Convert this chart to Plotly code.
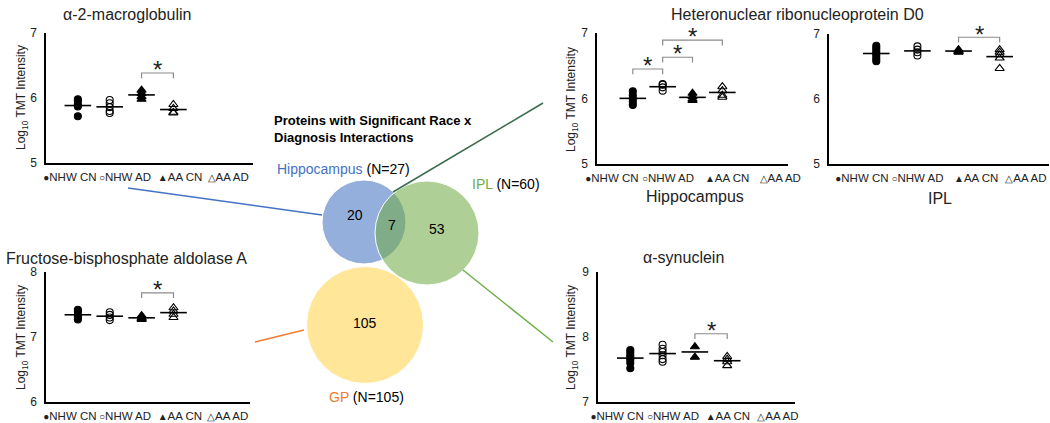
import plotly.graph_objects as go

W, H = 1050, 423

GROUPS = ["NHW CN", "NHW AD", "AA CN", "AA AD"]
GROUP_POS = [1, 2, 3, 4]
GROUP_GLYPHS = ["●", "○", "▲", "△"]
GROUP_SYMBOLS = ["circle", "circle-open", "triangle-up", "triangle-up-open"]

# Log10 TMT intensity per group: NHW CN, NHW AD, AA CN, AA AD
a2m_hip = [
    [5.98, 5.95, 5.90, 5.87, 5.72],
    [5.97, 5.92, 5.86, 5.80, 5.77],
    [6.12, 6.07, 6.02, 5.98],
    [5.90, 5.84, 5.78, 5.77],
]
aldoa_gp = [
    [7.42, 7.39, 7.33, 7.30, 7.27],
    [7.38, 7.34, 7.30, 7.26],
    [7.33, 7.30, 7.28, 7.27],
    [7.45, 7.40, 7.35, 7.30],
]
hnrnpd_hip = [
    [6.11, 6.05, 6.00, 5.95, 5.90],
    [6.22, 6.21, 6.17, 6.12],
    [6.08, 6.03, 5.99, 5.97],
    [6.18, 6.12, 6.05, 6.02],
]
hnrnpd_ipl = [
    [6.82, 6.78, 6.74, 6.70, 6.66, 6.62, 6.58],
    [6.81, 6.76, 6.72, 6.67],
    [6.76, 6.74, 6.72, 6.73],
    [6.76, 6.72, 6.68, 6.63, 6.47],
]
snca_ipl = [
    [7.80, 7.76, 7.72, 7.68, 7.65, 7.60, 7.52],
    [7.88, 7.82, 7.77, 7.72, 7.66, 7.62],
    [7.85, 7.69],
    [7.70, 7.66, 7.62, 7.56],
]

# significant pairwise comparisons (group index pairs)
a2m_sig = [(2, 3)]
aldoa_sig = [(2, 3)]
hnrnpd_hip_sig = [(0, 1), (1, 2), (1, 3)]
hnrnpd_ipl_sig = [(2, 3)]
snca_sig = [(2, 3)]

# Venn diagram counts
venn_regions = ["Hippocampus", "IPL", "GP"]
venn_totals = [27, 60, 105]
venn_counts = [20, 7, 53, 105]  # hip only, hip & IPL, IPL only, GP only

FONT = "Arial, Liberation Sans, sans-serif"
TXT = "#222222"

# panel boxes in pixels (left, right, top, bottom) + axis settings
panels = [
    dict(data=a2m_hip, sig=a2m_sig, box=(46, 253, 33, 163), yr=[5, 7], xr=[0, 6.5],
         ticks=[0.75, 2.48, 4.21, 5.72], br=[6.385]),
    dict(data=aldoa_gp, sig=aldoa_sig, box=(46, 250, 272, 402), yr=[6, 8], xr=[0, 6.4],
         ticks=[0.75, 2.48, 4.2, 5.7], br=[7.68]),
    dict(data=hnrnpd_hip, sig=hnrnpd_hip_sig, box=(597, 788, 33, 164), yr=[5, 7], xr=[-0.2, 6.2],
         ticks=[0.30, 2.18, 4.16, 5.94], br=[6.45, 6.63, 6.89]),
    dict(data=hnrnpd_ipl, sig=hnrnpd_ipl_sig, box=(829, 1049, 34, 164), yr=[5, 7], xr=[-0.15, 5.2],
         ticks=[0.65, 2.0, 3.43, 4.64], br=[6.95]),
    dict(data=snca_ipl, sig=snca_sig, box=(598, 795, 272, 402), yr=[7, 9], xr=[0, 6.1],
         ticks=[0.59, 2.32, 4.02, 5.57], br=[8.05]),
]

tick_text = [f"<span style='font-size:10px'>{g}</span>{n}" for g, n in zip(GROUP_GLYPHS, GROUPS)]

fig = go.Figure()
annotations = []
shapes = []

# invisible full-figure pixel axis for the Venn diagram and text
fig.update_layout(
    xaxis=dict(domain=[0, 1], range=[0, W], visible=False, fixedrange=True, automargin=False),
    yaxis=dict(domain=[0, 1], range=[H, 0], visible=False, fixedrange=True, automargin=False),
)


def to_px(p, x, y):
    l, r, t, b = p["box"]
    px = l + (x - p["xr"][0]) / (p["xr"][1] - p["xr"][0]) * (r - l)
    py = b - (y - p["yr"][0]) / (p["yr"][1] - p["yr"][0]) * (b - t)
    return px, py


for i, p in enumerate(panels):
    n = i + 2
    xa, ya = f"x{n}", f"y{n}"
    l, r, t, b = p["box"]
    for g, vals in enumerate(p["data"]):
        fig.add_trace(go.Scatter(
            x=[GROUP_POS[g]] * len(vals), y=vals, xaxis=xa, yaxis=ya, mode="markers",
            marker=dict(symbol=GROUP_SYMBOLS[g], size=7 if g < 2 else 8, color="black",
                        line=dict(color="black", width=1.1)),
            hoverinfo="skip", cliponaxis=False,
        ))
        fig.add_trace(go.Scatter(
            x=[GROUP_POS[g]], y=[sum(vals) / len(vals)], xaxis=xa, yaxis=ya, mode="markers",
            marker=dict(symbol="line-ew", size=19, line=dict(color="black", width=1.6)),
            hoverinfo="skip", cliponaxis=False,
        ))
    drop = 0.08
    for (ga, gb), top in zip(p["sig"], p["br"]):
        xa0, xb0 = GROUP_POS[ga], GROUP_POS[gb]
        fig.add_trace(go.Scatter(
            x=[xa0, xa0, xb0, xb0], y=[top - drop, top, top, top - drop],
            xaxis=xa, yaxis=ya, mode="lines", line=dict(color="#8c8c8c", width=1.2),
            hoverinfo="skip", cliponaxis=False,
        ))
        sx, sy = to_px(p, (xa0 + xb0) / 2, top + 0.05)
        annotations.append(dict(
            x=sx, y=sy, xref="x", yref="y", text="*", showarrow=False,
            font=dict(size=24, color=TXT, family=FONT), yanchor="middle",
        ))
    fig.update_layout({
        f"xaxis{n}": dict(
            domain=[l / W, r / W], range=p["xr"], anchor=ya, showline=True,
            linecolor="black", linewidth=1.5, showgrid=False, zeroline=False, ticks="",
            tickmode="array", tickvals=p["ticks"], ticktext=tick_text, tickangle=0,
            tickfont=dict(size=11.5, color=TXT, family=FONT),
            ticklabelstandoff=2, fixedrange=True, automargin=False,
        ),
        f"yaxis{n}": dict(
            domain=[1 - b / H, 1 - t / H], range=p["yr"], anchor=xa,
            showline=True, linecolor="black", linewidth=1.5, showgrid=False, zeroline=False,
            ticks="", tickmode="array", tickvals=[p["yr"][0], p["yr"][0] + 1, p["yr"][1]],
            tickfont=dict(size=12, color=TXT, family=FONT), ticklabelstandoff=5, fixedrange=True,
            automargin=False,
        ),
    })

# y-axis titles
for x, y in [(22, 98), (22, 338), (572, 100), (572, 338)]:
    annotations.append(dict(
        x=x, y=y, xref="x", yref="y", text="Log<sub>10</sub> TMT Intensity", textangle=-90,
        showarrow=False, font=dict(size=12, color=TXT, family=FONT),
    ))

# panel titles
for text, x, y in [
    ("α-2-macroglobulin", 127, 14),
    ("Fructose-bisphosphate aldolase A", 126, 258),
    ("Heteronuclear ribonucleoprotein D0", 797, 14),
    ("α-synuclein", 683, 257),
    ("Hippocampus", 695, 196),
    ("IPL", 940, 198),
]:
    annotations.append(dict(
        x=x, y=y, xref="x", yref="y", text=text, showarrow=False,
        font=dict(size=16, color=TXT, family=FONT),
    ))

# connector lines from Venn to panels
for x0, y0, x1, y1, c in [
    (128, 188, 322, 215, "#4472C4"),
    (255, 342, 304, 330, "#ED7D31"),
    (393, 192, 543, 103, "#3A6B4C"),
    (463, 270, 553, 342, "#70AD47"),
]:
    shapes.append(dict(type="line", xref="x", yref="y", x0=x0, y0=y0, x1=x1, y1=y1,
                       line=dict(color=c, width=1.5)))

# Venn circles
for cx, cy, rad, fill in [
    (364, 222, 42, "rgba(68,114,196,0.57)"),
    (427, 233, 52, "rgba(112,173,71,0.57)"),
    (365, 325, 58.5, "rgba(255,192,0,0.40)"),
]:
    shapes.append(dict(type="circle", xref="x", yref="y", x0=cx - rad, x1=cx + rad,
                       y0=cy - rad, y1=cy + rad, fillcolor=fill,
                       line=dict(color="white", width=1), layer="below"))

for val, x, y in zip(venn_counts, [355, 392, 437, 365], [215, 225, 229, 323]):
    annotations.append(dict(x=x, y=y, xref="x", yref="y", text=str(val), showarrow=False,
                            font=dict(size=14, color="black", family=FONT)))

annotations.append(dict(
    x=272, y=129, xref="x", yref="y", xanchor="left", align="left", showarrow=False,
    text="<b>Proteins with Significant Race x<br>Diagnosis Interactions</b>",
    font=dict(size=13, color="black", family=FONT),
))
for (name, tot), x, y, c in zip(zip(venn_regions, venn_totals), [275, 470, 327], [169, 184, 397],
                                ["#4472C4", "#70AD47", "#ED7D31"]):
    annotations.append(dict(
        x=x, y=y, xref="x", yref="y", xanchor="left", showarrow=False,
        text=f"<span style='color:{c}'>{name}</span> (N={tot})",
        font=dict(size=14, color="black", family=FONT),
    ))

fig.update_layout(
    width=W, height=H, margin=dict(l=0, r=0, t=0, b=0, autoexpand=False),
    plot_bgcolor="rgba(0,0,0,0)", paper_bgcolor="white",
    showlegend=False, annotations=annotations, shapes=shapes,
    font=dict(family=FONT),
)

# drop the browser's default page margin so the figure fills the window
fig.write_html("out.html", config={"displayModeBar": False},
               post_script="document.body.style.margin='0';")
